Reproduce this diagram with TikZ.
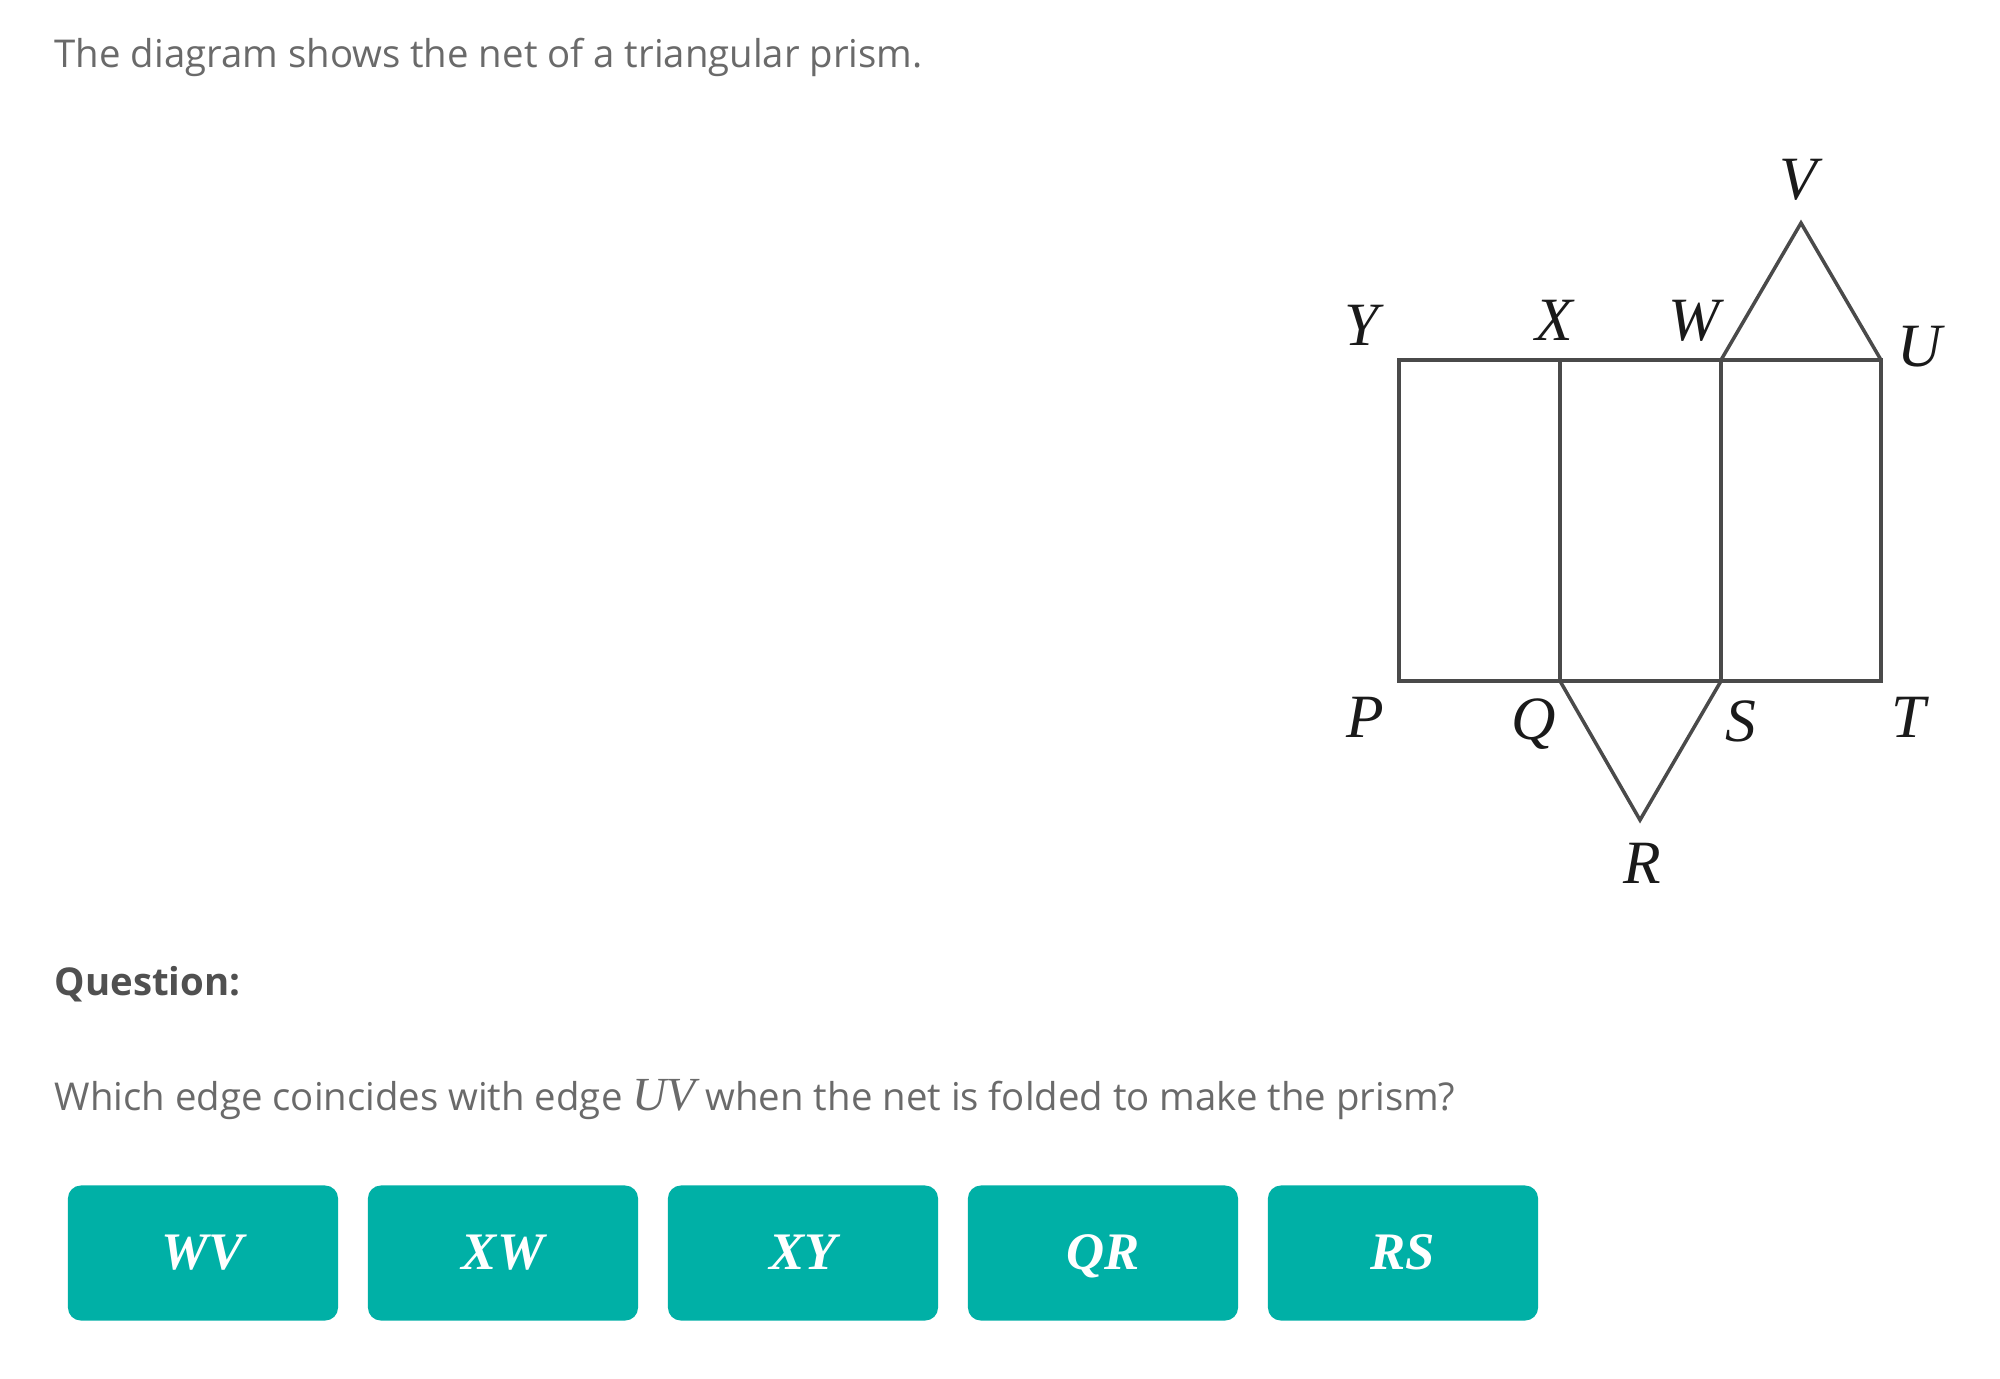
\documentclass[tikz,border=0pt]{standalone}
\usepackage{fontspec}
\newfontfamily\uifont{Open Sans}
\newfontfamily\lblfont{Liberation Serif}
\definecolor{teal1}{HTML}{00B0A6}
\definecolor{bodygray}{HTML}{6A6A6A}
\definecolor{qgray}{HTML}{505050}
\definecolor{netline}{HTML}{4A4A4A}
\definecolor{lblcol}{HTML}{1A1A1A}
\tikzset{
  netedge/.style={draw=netline, line width=1pt, line join=miter},
  vlabel/.style={font=\lblfont\itshape\fontsize{17.5}{19}\selectfont, text=lblcol, inner sep=0pt},
  bodytext/.style={font=\uifont\fontsize{10.9}{13}\selectfont, text=bodygray, anchor=base west, inner sep=0pt},
  answerbtn/.style={fill=teal1, rounded corners=0.13cm, minimum width=2.7cm, minimum height=1.35cm, inner sep=0pt,
    text=white, text height=0.33cm, text depth=0cm, font=\lblfont\bfseries\itshape\fontsize{15}{17}\selectfont}
}
\begin{document}
\begin{tikzpicture}[x=0.01cm,y=-0.01cm]
\useasboundingbox (0,0) rectangle (2000,1379);
\fill[white] (0,0) rectangle (2000,1379);

% texts
\node[bodytext] (intro) at (54,68) {The diagram shows the net of a triangular prism.};
\node[bodytext, text=qgray, font=\uifont\bfseries\fontsize{10.9}{13}\selectfont] (qhead) at (54,995) {Question:};
\node[bodytext] (qtext) at (54,1110) {Which edge coincides with edge {\lblfont\itshape\fontsize{13.5}{15}\selectfont UV} when the net is folded to make the prism?};

% net vertices
\coordinate (Y) at (1399,360);
\coordinate (X) at (1560,360);
\coordinate (W) at (1721,360);
\coordinate (U) at (1881,360);
\coordinate (P) at (1399,681);
\coordinate (Q) at (1560,681);
\coordinate (S) at (1721,681);
\coordinate (T) at (1881,681);
\coordinate (V) at (1801,223);
\coordinate (R) at (1640,820);

\draw[netedge] (Y) -- (U) -- (T) -- (P) -- cycle;
\draw[netedge] (X) -- (Q);
\draw[netedge] (W) -- (S);
\draw[netedge] (W) -- (V) -- (U);
\draw[netedge] (Q) -- (R) -- (S);

% vertex labels
\node[vlabel] (lV) at (1798,180) {V};
\node[vlabel] (lY) at (1362,325) {Y};
\node[vlabel] (lX) at (1554,320) {X};
\node[vlabel] (lW) at (1694,321) {W};
\node[vlabel] (lU) at (1920,347) {U};
\node[vlabel] (lP) at (1365,717) {P};
\node[vlabel] (lQ) at (1534,724) {Q};
\node[vlabel] (lS) at (1741,721) {S};
\node[vlabel] (lT) at (1909,717) {T};
\node[vlabel] (lR) at (1642,863) {R};

% answer buttons
\node[answerbtn] (b1) at (203,1253) {WV};
\node[answerbtn] (b2) at (503,1253) {XW};
\node[answerbtn] (b3) at (803,1253) {XY};
\node[answerbtn] (b4) at (1103,1253) {QR};
\node[answerbtn] (b5) at (1403,1253) {RS};
\end{tikzpicture}
\end{document}
